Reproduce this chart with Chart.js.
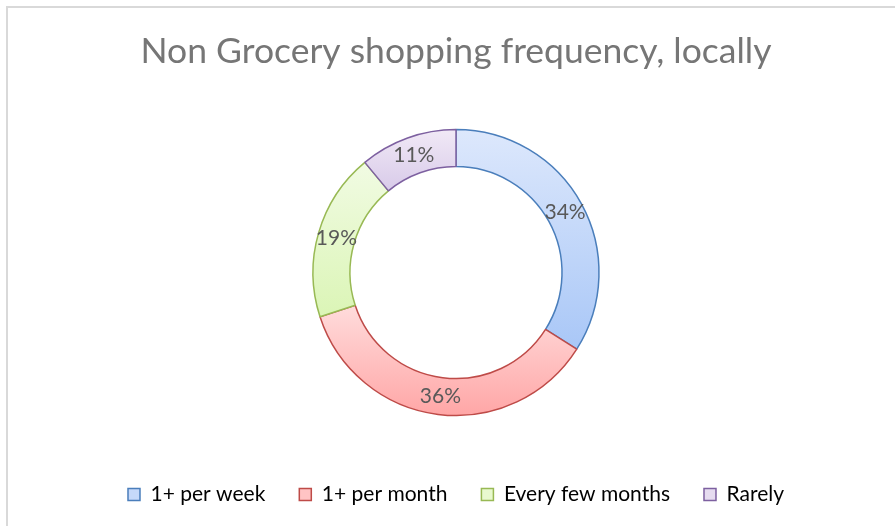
<!DOCTYPE html>
<html>
<head>
<meta charset="utf-8">
<script src="https://cdn.jsdelivr.net/npm/chart.js@4/dist/chart.umd.min.js"></script>
<style>
  html, body { margin: 0; padding: 0; background: #ffffff; overflow: hidden; }
  #frame { position: absolute; left: 6px; top: 6px; width: 1000px; height: 1000px; border: 2px solid #d9d9d9; box-sizing: border-box; }
  #wrap { position: absolute; left: 0; top: 0; width: 895px; height: 526px; }
</style>
</head>
<body>
<div id="frame"></div>
<div id="wrap"><canvas id="c" width="895" height="526"></canvas></div>
<script>
const titleText = "Non Grocery shopping frequency, locally";
const categories = ["1+ per week", "1+ per month", "Every few months", "Rarely"];
const values = [34, 36, 19, 11];
const valueLabels = ["34%", "36%", "19%", "11%"];

const topColors = ["#dde8fc", "#ffdcdc", "#f1fbe3", "#f1e9f6"];
const bottomColors = ["#a9c7f7", "#ffa6a6", "#dbf5b6", "#d8cae9"];
const midColors = ["#c6d9fa", "#ffc4c4", "#e8f9cf", "#e6dcf0"];
const lineColors = ["#4a7ebb", "#be4b48", "#98b954", "#7d60a0"];

const OUTER = 143, INNER = 106;

function arcGradient(ctx) {
  const chart = ctx.chart;
  const i = ctx.dataIndex;
  const area = chart.chartArea;
  if (!area || i === undefined) return midColors[i] || '#ccc';
  const cy = (area.top + area.bottom) / 2;
  const total = values.reduce((a, b) => a + b, 0);
  let start = -Math.PI / 2;
  for (let k = 0; k < i; k++) start += values[k] / total * Math.PI * 2;
  const end = start + values[i] / total * Math.PI * 2;
  let yMin = Infinity, yMax = -Infinity;
  const steps = 60;
  for (let s = 0; s <= steps; s++) {
    const a = start + (end - start) * s / steps;
    for (const r of [OUTER, INNER]) {
      const y = cy + r * Math.sin(a);
      yMin = Math.min(yMin, y); yMax = Math.max(yMax, y);
    }
  }
  const g = chart.ctx.createLinearGradient(0, yMin, 0, yMax);
  g.addColorStop(0, topColors[i]);
  g.addColorStop(1, bottomColors[i]);
  return g;
}

const valueLabelPlugin = {
  id: 'valueLabels',
  afterDatasetsDraw(chart) {
    const meta = chart.getDatasetMeta(0);
    const c = chart.ctx;
    c.save();
    c.font = '21px Lato';
    c.fillStyle = '#595959';
    c.textAlign = 'center';
    c.textBaseline = 'middle';
    meta.data.forEach((arc, i) => {
      const p = arc.getCenterPoint();
      c.fillText(valueLabels[i], p.x, p.y);
    });
    c.restore();
  }
};

new Chart(document.getElementById('c'), {
  type: 'doughnut',
  data: {
    labels: categories,
    datasets: [{
      data: values,
      backgroundColor: arcGradient,
      borderColor: lineColors,
      borderWidth: 1.5,
      radius: OUTER,
      cutout: (INNER / OUTER * 100).toFixed(2) + '%'
    }]
  },
  options: {
    responsive: false,
    animation: false,
    layout: { padding: { left: 17, right: 0, top: 0, bottom: 11 } },
    plugins: {
      tooltip: { enabled: false },
      title: {
        display: true,
        text: titleText,
        color: '#767676',
        font: { family: 'Lato', size: 35.5, weight: 'normal' },
        padding: { top: 30.5, bottom: 22 }
      },
      legend: {
        position: 'bottom',
        labels: {
          boxWidth: 12,
          boxHeight: 12,
          padding: 34,
          color: '#595959',
          font: { family: 'Lato', size: 21 },
          generateLabels(chart) {
            return categories.map((t, i) => ({
              text: t,
              fillStyle: midColors[i],
              strokeStyle: lineColors[i],
              lineWidth: 1.5,
              hidden: false,
              index: i
            }));
          }
        }
      }
    }
  },
  plugins: [valueLabelPlugin]
});
</script>
</body>
</html>
